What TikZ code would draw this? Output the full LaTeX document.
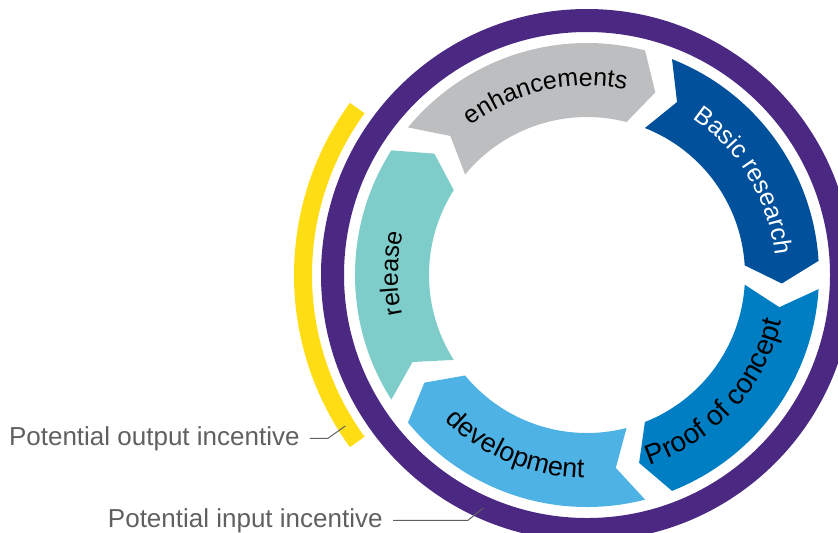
\documentclass[tikz,border=0pt]{standalone}
\usepackage{fontspec}
\setmainfont{Liberation Sans}
\usetikzlibrary{decorations.text}

\definecolor{ringpurple}{RGB}{75,40,130}
\definecolor{outyellow}{RGB}{255,221,21}
\definecolor{enhgray}{RGB}{188,190,192}
\definecolor{basicblue}{RGB}{0,80,155}
\definecolor{proofblue}{RGB}{0,126,196}
\definecolor{devblue}{RGB}{78,178,228}
\definecolor{relteal}{RGB}{126,205,202}
\definecolor{notegray}{RGB}{95,96,98}

\begin{document}
\begin{tikzpicture}[
  x = 0.5pt, y = 0.5pt,
  % one arrow of the cycle: trailing angle #1, leading angle #2 (clockwise)
  pics/chevron/.style 2 args = {code = {
    \fill[pic actions] (#1:232) -- (#1-6:195) -- (#1:158)
      arc[start angle=#1, end angle=#2, radius=158]
      -- (#2-6:195) -- (#2:232)
      arc[start angle=#2, end angle=#1, radius=232] -- cycle;
  }},
  % text bent along an arrow: colour, size, text
  seglabel/.style n args = {3}{decorate, decoration = {text along path,
    text align = center, text = {|\fontsize{#2}{15}\selectfont\color{#1}|#3}}},
  note/.style = {font = \fontsize{13}{15}\selectfont, text = notegray,
    inner xsep = 5pt, inner ysep = 0pt},
  leader/.style = {draw = notegray, line width = 0.5pt}
]
\useasboundingbox (-587,-257) rectangle (251,275);

% outer rings
\draw[ringpurple, line width = 11.5pt] (0,0) circle[radius=254.5];
\draw[outyellow, line width = 9pt] (144:284) arc[start angle=144, end angle=216, radius=284];

% the five stages
\pic[fill = enhgray]   {chevron={140.5}{75.5}};
\pic[fill = basicblue] {chevron={68.5}{3.5}};
\pic[fill = proofblue] {chevron={-3.5}{-68.5}};
\pic[fill = devblue]   {chevron={-75.5}{-140.5}};
\pic[fill = relteal]   {chevron={-147.5}{-212.5}};

% labels along the arrows
\path[seglabel = {black}{12.5}{enhancements}] (138:189) arc[start angle=138, end angle=68, radius=189];
\path[seglabel = {white}{12.5}{Basic research}] (66:189) arc[start angle=66, end angle=-4, radius=189];
\path[seglabel = {black}{14}{Proof of concept}] (-79.5:200) arc[start angle=-79.5, end angle=-5.5, radius=200];
\path[seglabel = {black}{13.5}{development}] (-148.6:203) arc[start angle=-148.6, end angle=-76.6, radius=203];
\path[seglabel = {black}{12.5}{release}] (214.5:189) arc[start angle=214.5, end angle=144.5, radius=189];

% incentive notes
\node[note, anchor = base east] (outlbl) at (-277,-170) {Potential output incentive};
\node[note, anchor = base east] (inlbl) at (-194,-252) {Potential input incentive};
\coordinate (outend) at (212:285);
\coordinate (inend) at (246:255);
\draw[leader] (outlbl.east) -- ++(18,0) -- (outend);
\draw[leader] (inlbl.east) -- ++(75,0) -- (inend);

\end{tikzpicture}
\end{document}
